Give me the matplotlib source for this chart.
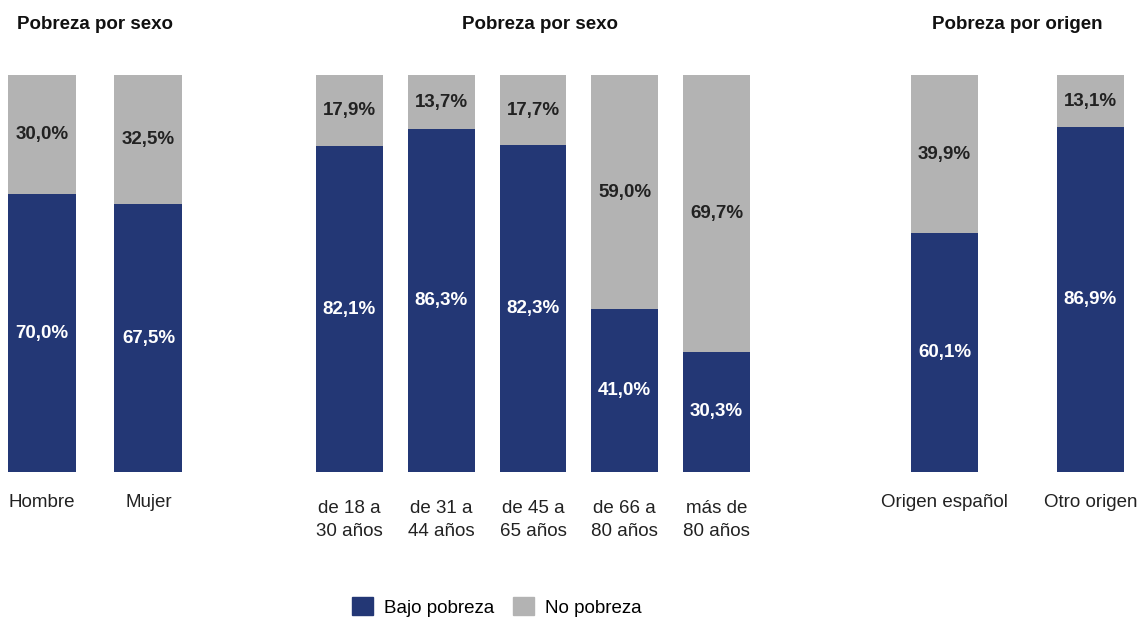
import matplotlib.pyplot as plt
from matplotlib.patches import Patch

plt.rcParams['font.family'] = ['Liberation Sans', 'DejaVu Sans']

# datos
sexo_cat = ['Hombre', 'Mujer']
sexo_bajo = [70.0, 67.5]
sexo_no = [30.0, 32.5]

edad_cat = ['de 18 a\n30 años', 'de 31 a\n44 años', 'de 45 a\n65 años', 'de 66 a\n80 años', 'más de\n80 años']
edad_bajo = [82.1, 86.3, 82.3, 41.0, 30.3]
edad_no = [17.9, 13.7, 17.7, 59.0, 69.7]

origen_cat = ['Origen español', 'Otro origen']
origen_bajo = [60.1, 86.9]
origen_no = [39.9, 13.1]

titles = ['Pobreza por sexo', 'Pobreza por sexo', 'Pobreza por origen']

AZUL = '#233775'
GRIS = '#b3b3b3'

W, H = 1137, 617
fig = plt.figure(figsize=(W / 100, H / 100), dpi=100)

# (left px, width px, ancho barra, x titulo, pad etiquetas)
layout = [(8, 174.5, 0.64, 0.5, 16), (316, 434, 0.73, 0.516, 20.5), (911, 213, 0.459, 0.5, 16)]
groups = [(sexo_cat, sexo_bajo, sexo_no), (edad_cat, edad_bajo, edad_no),
          (origen_cat, origen_bajo, origen_no)]

bottom = (H - 472) / H
height = 397 / H

for (left, wpx, bw, tx, lpad), (cats, bajo, no), title in zip(layout, groups, titles):
    ax = fig.add_axes([left / W, bottom, wpx / W, height])
    x = list(range(len(cats)))
    ax.bar(x, bajo, width=bw, color=AZUL)
    ax.bar(x, no, width=bw, bottom=bajo, color=GRIS)
    for i in x:
        ax.text(i, bajo[i] / 2, f'{bajo[i]:.1f}%'.replace('.', ','), ha='center', va='center',
                color='white', fontsize=13.5, fontweight='bold')
        ax.text(i, bajo[i] + no[i] / 2, f'{no[i]:.1f}%'.replace('.', ','), ha='center', va='center',
                color='#222222', fontsize=13.5, fontweight='bold')
    ax.set_xlim(-bw / 2, len(cats) - 1 + bw / 2)
    ax.set_ylim(0, 100)
    ax.set_xticks(x)
    ax.set_xticklabels(cats, fontsize=13.5, color='#222222', linespacing=1.4)
    ax.tick_params(axis='x', length=0, pad=lpad)
    ax.set_yticks([])
    for s in ax.spines.values():
        s.set_visible(False)
    ax.set_title(title, fontsize=13.5, fontweight='bold', color='#111111', pad=33, x=tx)

handles = [Patch(color=AZUL, label='Bajo pobreza'), Patch(color=GRIS, label='No pobreza')]
fig.legend(handles=handles, loc='center', bbox_to_anchor=(497 / W, 1 - 607 / H), ncol=2,
           frameon=False, fontsize=13.5, handlelength=1.1, handleheight=1.1,
           handletextpad=0.6, columnspacing=1.0)

fig.savefig('out.png', dpi=100, facecolor='white')
